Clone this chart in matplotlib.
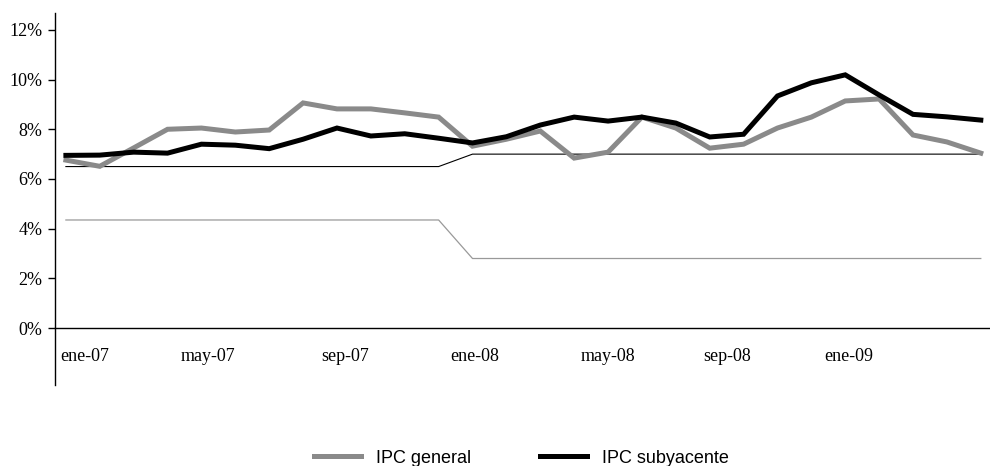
import matplotlib
matplotlib.use("Agg")
import matplotlib.pyplot as plt
from matplotlib.lines import Line2D
from matplotlib.ticker import FuncFormatter

meses = ["ene-07", "feb-07", "mar-07", "abr-07", "may-07", "jun-07", "jul-07",
         "ago-07", "sep-07", "oct-07", "nov-07", "dic-07",
         "ene-08", "feb-08", "mar-08", "abr-08", "may-08", "jun-08", "jul-08",
         "ago-08", "sep-08", "oct-08", "nov-08", "dic-08",
         "ene-09", "feb-09", "mar-09", "abr-09"]

# inflacion anual, %
ipc_general = [6.76, 6.51, 7.25, 8.00, 8.05, 7.89, 7.97, 9.06, 8.82, 8.82,
               8.66, 8.49, 7.32, 7.60, 7.93, 6.84, 7.08, 8.49, 8.05, 7.24,
               7.40, 8.05, 8.49, 9.14, 9.22, 7.77, 7.49, 7.04]
ipc_subyacente = [6.95, 6.96, 7.08, 7.04, 7.40, 7.36, 7.22, 7.60, 8.05, 7.73,
                  7.82, 7.64, 7.45, 7.70, 8.17, 8.49, 8.33, 8.49, 8.25, 7.69,
                  7.80, 9.34, 9.87, 10.19, 9.38, 8.60, 8.50, 8.37]

# rango meta
banda_sup = [6.5, 6.5, 6.5, 6.5, 6.5, 6.5, 6.5, 6.5, 6.5, 6.5, 6.5, 6.5,
             7.0, 7.0, 7.0, 7.0, 7.0, 7.0, 7.0, 7.0, 7.0, 7.0, 7.0, 7.0,
             7.0, 7.0, 7.0, 7.0]
banda_inf = [4.35, 4.35, 4.35, 4.35, 4.35, 4.35, 4.35, 4.35, 4.35, 4.35,
             4.35, 4.35, 2.8, 2.8, 2.8, 2.8, 2.8, 2.8, 2.8, 2.8, 2.8, 2.8,
             2.8, 2.8, 2.8, 2.8, 2.8, 2.8]

etiquetas = meses[0::4]
pos_etiquetas = [0.55, 4.2, 8.25, 12.05, 16.0, 19.5, 23.1]

GRIS = "#8a8a8a"
x = list(range(len(meses)))

fig = plt.figure(figsize=(9.9, 4.66), dpi=100)
ax = fig.add_axes([0.0556, 0.1738, 0.944, 0.7989])

ax.plot(x, banda_inf, color="#999999", lw=0.9)
ax.plot(x, banda_sup, color="black", lw=0.8)
ax.plot(x, ipc_general, color=GRIS, lw=3.6, solid_joinstyle="miter")
ax.plot(x, ipc_subyacente, color="black", lw=3.6, solid_joinstyle="miter")

ax.set_xlim(-0.32, 27.26)
ax.set_ylim(-2.29, 12.69)

for s in ["top", "right"]:
    ax.spines[s].set_visible(False)
ax.spines["bottom"].set_position(("data", 0))
ax.spines["left"].set_linewidth(1.0)
ax.spines["bottom"].set_linewidth(1.0)

ax.set_yticks([0, 2, 4, 6, 8, 10, 12])
ax.yaxis.set_major_formatter(FuncFormatter(lambda v, p: "%d%%" % v))
ax.set_xticks(pos_etiquetas)
ax.set_xticklabels(etiquetas)

ax.tick_params(axis="y", length=5, width=1.0, pad=4.3, direction="out")
ax.tick_params(axis="x", length=0, pad=14)
for lab in ax.get_xticklabels() + ax.get_yticklabels():
    lab.set_fontfamily("Liberation Serif")
    lab.set_fontsize(13)

handles = [Line2D([], [], color=GRIS, lw=3.6),
           Line2D([], [], color="black", lw=3.6)]
fig.legend(handles, ["IPC general", "IPC subyacente"], loc="center",
           bbox_to_anchor=(0.527, 0.017), ncol=2, frameon=False,
           prop={"family": "Liberation Sans", "size": 13},
           handlelength=2.6, handletextpad=0.85, columnspacing=3.8,
           borderpad=0)

fig.savefig("out.png", dpi=100)
